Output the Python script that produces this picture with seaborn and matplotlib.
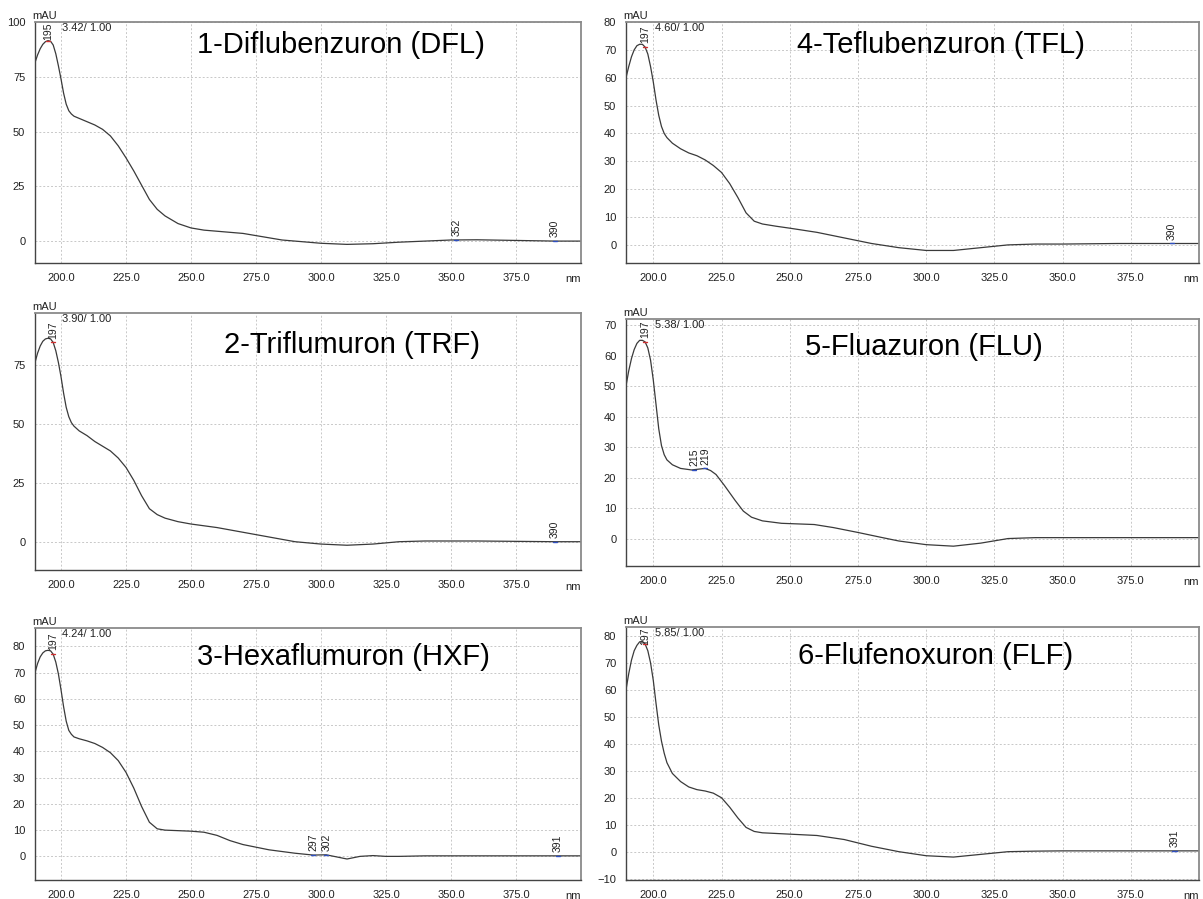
import numpy as np
import pandas as pd
import matplotlib
matplotlib.use("Agg")
import matplotlib.pyplot as plt
import seaborn as sns
from matplotlib.ticker import MultipleLocator, FormatStrFormatter

sns.set_style("white")
plt.rcParams['font.family'] = ['Liberation Sans', 'DejaVu Sans']

# ---------------- data (wavelength nm, absorbance mAU) ----------------
wl_dfl = [190, 191, 192, 193, 194, 195, 196, 197, 198, 199, 200, 201, 202, 203, 204, 205, 207, 210, 213, 216,
          219, 222, 225, 228, 231, 234, 237, 240, 245, 250, 255, 260, 265, 270, 275, 280, 285, 290, 300, 310,
          320, 330, 340, 350, 360, 370, 380, 390, 400]
ab_dfl = [81.5, 85, 87.8, 89.8, 91, 91.5, 91.2, 89.5, 85.5, 80, 74, 67.5, 62.5, 59.5, 58, 57, 56, 54.5, 53, 51,
          48, 43.5, 38, 32, 25.5, 19, 14.5, 11.5, 8, 6, 5, 4.5, 4, 3.5, 2.5, 1.5, 0.5, 0, -1, -1.5,
          -1.2, -0.5, 0, 0.5, 0.6, 0.4, 0.2, 0, 0]

wl_trf = [190, 191, 192, 193, 194, 195, 196, 197, 198, 199, 200, 201, 202, 203, 204, 205, 207, 210, 213, 216,
          219, 222, 225, 228, 231, 234, 237, 240, 245, 250, 260, 270, 280, 290, 300, 310, 320, 330, 340, 350,
          360, 370, 380, 390, 400]
ab_trf = [76, 80, 83, 85, 86, 86.3, 86, 84.5, 81, 76, 70, 63, 57, 53, 50.5, 49, 47, 45, 42.5, 40.5,
          38.5, 35.5, 31.5, 26, 19.5, 14, 11.5, 10, 8.5, 7.5, 6, 4, 2, 0, -1, -1.5, -1, 0, 0.3, 0.3,
          0.3, 0.2, 0.1, 0, 0]

wl_hxf = [190, 191, 192, 193, 194, 195, 196, 197, 198, 199, 200, 201, 202, 203, 204, 205, 207, 210, 213, 216,
          219, 222, 225, 228, 231, 234, 237, 240, 245, 250, 255, 260, 265, 270, 280, 290, 297, 302, 305, 310,
          315, 320, 325, 330, 340, 350, 360, 370, 380, 391, 400]
ab_hxf = [70, 73.5, 76, 77.5, 78.3, 78.5, 78.3, 77, 74, 69.5, 63.5, 57, 51.5, 48, 46.5, 45.5, 44.8, 44, 43, 41.5,
          39.5, 36.5, 32, 26, 19, 13, 10.5, 10, 9.8, 9.6, 9.2, 8, 6, 4.5, 2.5, 1.2, 0.5, 0.6, 0, -1,
          0, 0.3, 0, 0, 0.2, 0.2, 0.2, 0.2, 0.2, 0.2, 0.2]

wl_tfl = [190, 191, 192, 193, 194, 195, 196, 197, 198, 199, 200, 201, 202, 203, 204, 205, 207, 210, 213, 216,
          219, 222, 225, 228, 231, 234, 237, 240, 245, 250, 260, 270, 280, 290, 300, 310, 320, 330, 340, 350,
          360, 370, 380, 390, 400]
ab_tfl = [60, 64, 67.5, 70, 71.5, 72, 72, 71, 68.5, 64, 58.5, 52, 46.5, 42.5, 40, 38.5, 36.5, 34.5, 33, 32,
          30.5, 28.5, 26, 22, 17, 11.5, 8.5, 7.5, 6.7, 6, 4.5, 2.5, 0.5, -1, -2, -2, -1, 0, 0.3, 0.3,
          0.4, 0.5, 0.5, 0.5, 0.5]

wl_flu = [190, 191, 192, 193, 194, 195, 196, 197, 198, 199, 200, 201, 202, 203, 204, 205, 207, 210, 214, 217,
          219, 221, 223, 226, 230, 233, 236, 240, 247, 259, 266, 275, 284, 290, 300, 310, 320, 330, 340, 350,
          360, 370, 380, 390, 400]
ab_flu = [50, 55, 59, 62, 64, 65, 65, 64.5, 62.5, 58.5, 52, 44, 36, 30.5, 27.5, 25.8, 24.2, 23, 22.5, 22.8,
          23, 22.3, 21, 17.5, 12.5, 9, 7, 5.8, 5, 4.6, 3.6, 2, 0.3, -0.8, -2, -2.5, -1.5, 0, 0.3, 0.3,
          0.3, 0.3, 0.3, 0.3, 0.3]

wl_flf = [190, 191, 192, 193, 194, 195, 196, 197, 198, 199, 200, 201, 202, 203, 204, 205, 207, 210, 213, 216,
          219, 222, 225, 228, 231, 234, 237, 240, 250, 260, 270, 280, 290, 300, 310, 320, 330, 340, 350, 360,
          370, 380, 390, 400]
ab_flf = [60, 66, 71, 74.5, 76.5, 77.8, 78, 77, 74.5, 70, 63.5, 55, 47, 41, 36.5, 33, 29, 26, 24, 23,
          22.5, 21.7, 20, 16.5, 12.5, 9, 7.5, 7, 6.5, 6, 4.5, 2, 0, -1.5, -2, -1, 0, 0.2, 0.3, 0.3,
          0.3, 0.3, 0.3, 0.3]

titles = ["1-Diflubenzuron (DFL)", "2-Triflumuron (TRF)", "3-Hexaflumuron (HXF)",
          "4-Teflubenzuron (TFL)", "5-Fluazuron (FLU)", "6-Flufenoxuron (FLF)"]
headers = ["3.42/ 1.00", "3.90/ 1.00", "4.24/ 1.00", "4.60/ 1.00", "5.38/ 1.00", "5.85/ 1.00"]
peak_labels = [[195, 352, 390], [197, 390], [197, 297, 302, 391],
               [197, 390], [197, 215, 219], [197, 391]]
x_ticks = [200, 225, 250, 275, 300, 325, 350, 375]

W, H = 1203, 899
fig = plt.figure(figsize=(W / 100, H / 100), dpi=100)

# pixel boxes: (left, top, right, bottom)
boxes = [(35, 22, 581, 263), (35, 313, 581, 570), (35, 628, 581, 880),
         (626, 22, 1199, 263), (626, 319, 1199, 566), (626, 627, 1199, 880)]
ylims = [(-10, 100), (-12, 97), (-9, 87), (-6.5, 80), (-9, 72), (-10.5, 83.3)]
ymaj = [25, 25, 10, 10, 10, 10]
ymin = [5, 5, 2, 2, 2, 2]
title_pos = [(0.56, 0.905), (0.58, 0.875), (0.565, 0.885),
             (0.55, 0.905), (0.52, 0.885), (0.54, 0.885)]

datasets = [(wl_dfl, ab_dfl), (wl_trf, ab_trf), (wl_hxf, ab_hxf),
            (wl_tfl, ab_tfl), (wl_flu, ab_flu), (wl_flf, ab_flf)]

for i, ((wl, ab), box) in enumerate(zip(datasets, boxes)):
    l, t, r, b = box
    ax = fig.add_axes([l / W, 1 - b / H, (r - l) / W, (b - t) / H])
    df = pd.DataFrame({"wl": wl, "mAU": ab})
    sns.lineplot(data=df, x="wl", y="mAU", ax=ax, color="#3a3a3a", linewidth=0.9)
    ax.set_xlim(190, 400)
    ax.set_ylim(*ylims[i])
    ax.set_xticks(x_ticks)
    ax.xaxis.set_major_formatter(FormatStrFormatter("%.1f"))
    ax.xaxis.set_minor_locator(MultipleLocator(5))
    ax.yaxis.set_major_locator(MultipleLocator(ymaj[i]))
    ax.yaxis.set_minor_locator(MultipleLocator(ymin[i]))
    ax.set_xlabel("")
    ax.set_ylabel("")
    ax.grid(True, which="major", linestyle=(0, (2, 2)), color="#c8c8c8", linewidth=0.7)
    ax.tick_params(axis="both", which="major", direction="out", length=5, width=0.8,
                   color="#444444", labelsize=8, labelcolor="#222222", pad=2)
    ax.tick_params(axis="both", which="minor", direction="out", length=3, width=0.6, color="#444444")
    for s in ["left", "bottom"]:
        ax.spines[s].set_color("#444444")
        ax.spines[s].set_linewidth(1.0)
    for s in ["top", "right"]:
        ax.spines[s].set_color("#8a8a8a")
        ax.spines[s].set_linewidth(1.3)
    ax.text(-0.005, 1.005, "mAU", transform=ax.transAxes, fontsize=8, ha="left", va="bottom", color="#222222")
    ax.text(1.0, -0.045, "nm", transform=ax.transAxes, fontsize=8, ha="right", va="top", color="#222222")
    ax.text(0.05, 0.995, headers[i], transform=ax.transAxes, fontsize=8, ha="left", va="top", color="#222222")
    tx, ty = title_pos[i]
    ax.text(tx, ty, titles[i], transform=ax.transAxes, fontsize=21, ha="center", va="center", color="black")
    y0, y1 = ylims[i]
    span = y1 - y0
    lab_frac = 17.0 / (b - t)
    for k, p in enumerate(peak_labels[i]):
        yv = float(np.interp(p, wl, ab))
        col = "#d03030" if k == 0 else "#3050c0"
        ax.plot([p - 0.8, p + 0.8], [yv, yv], color=col, lw=1.0)
        f = (yv - y0) / span + 0.015
        if f + lab_frac > 0.995:
            f = 0.995 - lab_frac
        ax.text(p, f, str(p), rotation=90, fontsize=7.5, ha="center", va="bottom", color="#222222",
                transform=ax.get_xaxis_transform())

fig.savefig("out.png", dpi=100)
